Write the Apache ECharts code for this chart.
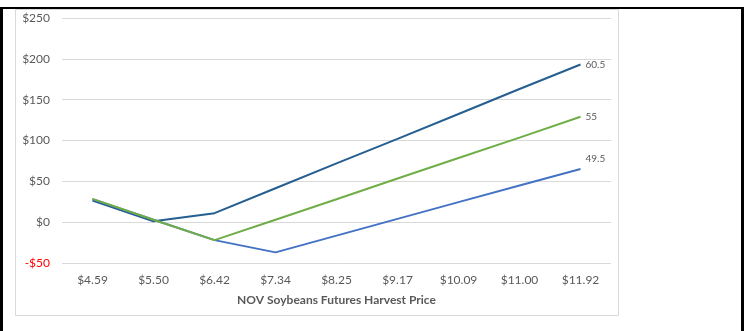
<!DOCTYPE html>
<html>
<head>
<meta charset="utf-8">
<script src="https://cdn.jsdelivr.net/npm/echarts@6/dist/echarts.min.js"></script>
<style>
  html, body { margin: 0; padding: 0; background: #fff; }
  #chart { width: 744px; height: 331px; }
</style>
</head>
<body>
<div id="chart"></div>
<script>
// Harvest price scenarios (category axis)
const harvestPrices = ['$4.59', '$5.50', '$6.42', '$7.34', '$8.25', '$9.17', '$10.09', '$11.00', '$11.92'];

// Net outcome per acre for each strategy
const strategyHigh = [26.5, 1, 11, 41.5, 72, 102, 132.5, 163, 193];
const strategyMid  = [28.5, 3, -22, 3, 28, 53.5, 78.5, 103.5, 129];
const strategyLow  = [28, 3, -22, -37, -16.5, 4, 24.5, 45, 65];

// End-of-line tags
const tagHigh = '60.5';
const tagMid = '55';
const tagLow = '49.5';

const yTicks = { min: -50, max: 250, step: 50 };

const textColor = '#595959';
const font = 'Lato, "Open Sans", sans-serif';

function lineSeries(name, data, color, tag, offset) {
  return {
    name: name,
    type: 'line',
    data: data,
    symbol: 'none',
    lineStyle: { color: color, width: 2 },
    itemStyle: { color: color },
    endLabel: {
      show: true,
      distance: 5,
      offset: offset,
      fontSize: 10,
      fontFamily: font,
      color: textColor,
      formatter: () => tag
    },
    animation: false
  };
}

const chart = echarts.init(document.getElementById('chart'), null, { renderer: 'canvas' });

chart.setOption({
  backgroundColor: '#fff',
  animation: false,
  grid: { left: 62, right: 133, top: 18, bottom: 68 },
  xAxis: {
    type: 'category',
    data: harvestPrices,
    boundaryGap: true,
    axisLine: { show: false },
    axisTick: { show: false },
    axisLabel: { color: textColor, fontSize: 12, fontFamily: font, margin: 11 },
    name: 'NOV Soybeans Futures Harvest Price',
    nameLocation: 'middle',
    nameGap: 31,
    nameTextStyle: { color: textColor, fontSize: 12, fontWeight: 'bold', fontFamily: font }
  },
  yAxis: {
    type: 'value',
    min: yTicks.min,
    max: yTicks.max,
    interval: yTicks.step,
    axisLine: { show: false },
    axisTick: { show: false },
    splitLine: { lineStyle: { color: '#d9d9d9', width: 1 } },
    axisLabel: {
      fontSize: 12,
      fontFamily: font,
      margin: 12,
      formatter: (v) => (v < 0 ? '-$' + Math.abs(v) : '$' + v),
      color: (v) => (Number(v) < 0 ? '#ff0000' : textColor)
    }
  },
  series: [
    lineSeries('High', strategyHigh, '#255E91', tagHigh, [0, 0]),
    lineSeries('Low', strategyLow, '#4472C4', tagLow, [0, -10]),
    lineSeries('Mid', strategyMid, '#70AD47', tagMid, [0, 0])
  ],
  graphic: [
    // light chart-area frame
    { type: 'rect', shape: { x: 15.5, y: 9.5, width: 603, height: 306 },
      style: { fill: 'none', stroke: '#d9d9d9', lineWidth: 1 }, silent: true },
    // outer black frame (top, left, right)
    { type: 'rect', shape: { x: 0, y: 7, width: 744, height: 2 }, style: { fill: '#000' }, silent: true },
    { type: 'rect', shape: { x: 0, y: 7, width: 3, height: 324 }, style: { fill: '#000' }, silent: true },
    { type: 'rect', shape: { x: 741, y: 7, width: 3, height: 324 }, style: { fill: '#000' }, silent: true }
  ]
});
</script>
</body>
</html>
